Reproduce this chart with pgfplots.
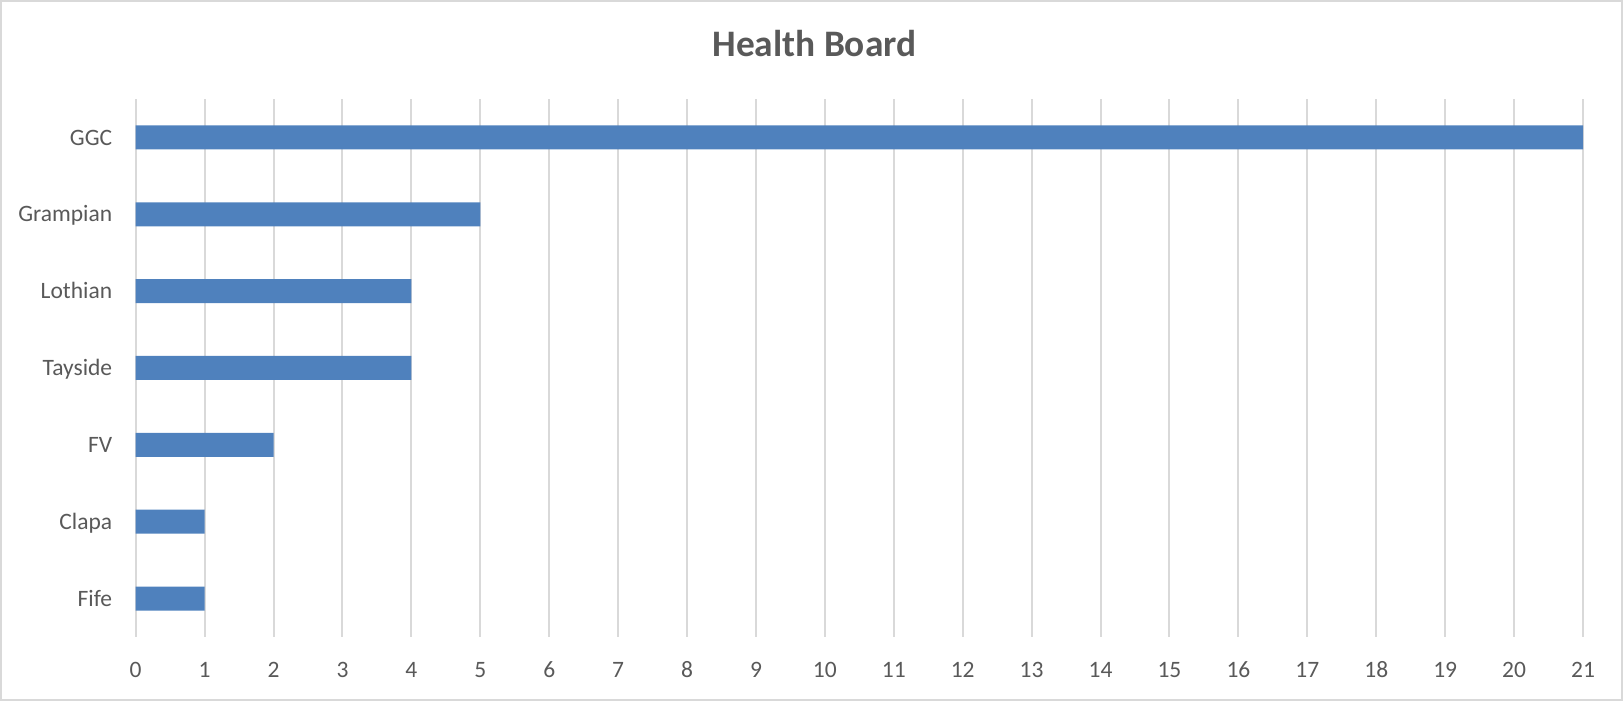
\documentclass[border=0pt]{standalone}
\usepackage{pgfplots}
\pgfplotsset{compat=1.18}
\usepackage{fontspec}
\setmainfont{Carlito}
\definecolor{barblue}{HTML}{4F81BD}
\definecolor{txtgray}{HTML}{595959}
\definecolor{gridgray}{HTML}{D9D9D9}

\begin{document}
\begin{tikzpicture}
\useasboundingbox (0,0) rectangle (811.5pt,350.5pt);
\draw[gridgray,line width=1pt] (0.5pt,0.5pt) rectangle (811pt,350pt);
\node[anchor=base,font=\fontsize{18.7}{21}\bfseries,text=txtgray,inner sep=0] at (407.2pt,322.2pt) {Health Board};
\begin{axis}[
 at={(67.85pt,32pt)},anchor=south west,
 scale only axis,width=723.65pt,height=269pt,
 xbar,bar width=12pt,
 xmin=0,xmax=21,ymin=-0.5,ymax=6.5,
 xtick={0,1,...,21},
 ytick={0,1,2,3,4,5,6},
 yticklabels={Fife,Clapa,FV,Tayside,Lothian,Grampian,GGC},
 xmajorgrids,
 major grid style={line width=1pt,gridgray},
 axis line style={draw=none},
 tick style={draw=none},
 tick label style={font=\fontsize{11.75}{13}\selectfont,text=txtgray},
 /pgf/number format/assume math mode=true,
 xticklabel style={inner sep=0pt,anchor=base,yshift=-20.2pt},
 yticklabel style={inner sep=0pt,anchor=base east,xshift=-7.3pt,yshift=-3.8pt},
]
\addplot[fill=barblue,draw=none] coordinates {(1,0)(1,1)(2,2)(4,3)(4,4)(5,5)(21,6)};
\end{axis}
\end{tikzpicture}
\end{document}
